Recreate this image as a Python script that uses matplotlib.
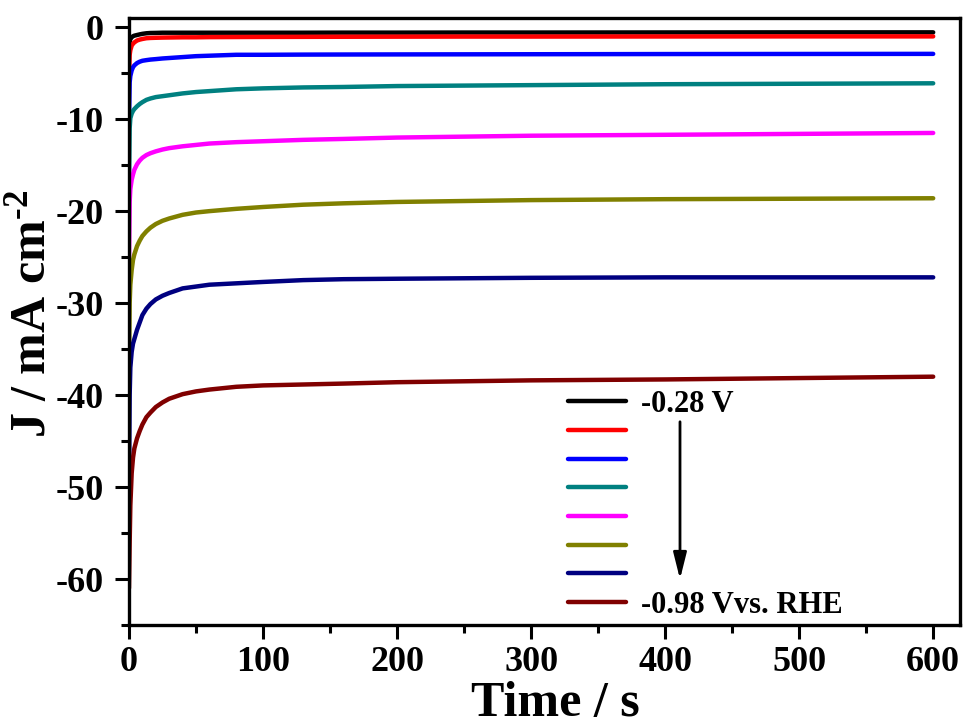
import matplotlib
matplotlib.use("Agg")
import matplotlib.pyplot as plt
from matplotlib.ticker import MultipleLocator

plt.rcParams['font.family'] = ['Liberation Serif', 'DejaVu Serif']
plt.rcParams['font.weight'] = 'bold'
plt.rcParams['axes.unicode_minus'] = False
plt.rcParams['mathtext.fontset'] = 'custom'
plt.rcParams['mathtext.rm'] = 'Liberation Serif:bold'
plt.rcParams['mathtext.bf'] = 'Liberation Serif:bold'
plt.rcParams['mathtext.default'] = 'bf'

time_s = [0, 0.5, 1, 2, 3, 4, 6, 8, 10, 13, 16, 20, 25, 30, 40, 50, 60, 80,
          100, 130, 160, 200, 250, 300, 400, 500, 600]

j_028 = [-3.0, -1.6, -1.3, -1.1, -0.98, -0.92, -0.85, -0.78, -0.72, -0.66, -0.63, -0.62, -0.6, -0.6,
         -0.6, -0.6, -0.6, -0.6, -0.6, -0.6, -0.59, -0.59, -0.58, -0.58, -0.57, -0.56, -0.56]
j_038 = [-5.5, -3.0, -2.5, -2.0, -1.8, -1.65, -1.45, -1.35, -1.28, -1.2, -1.17, -1.15, -1.13, -1.12,
         -1.1, -1.1, -1.08, -1.07, -1.06, -1.05, -1.04, -1.03, -1.02, -1.02, -1.01, -1.0, -1.0]
j_048 = [-10, -6.0, -5.3, -4.7, -4.35, -4.15, -3.9, -3.75, -3.65, -3.58, -3.52, -3.47, -3.4, -3.35,
         -3.25, -3.15, -3.1, -3.0, -3.0, -2.98, -2.97, -2.96, -2.95, -2.94, -2.92, -2.91, -2.9]
j_058 = [-17, -11, -9.9, -9.4, -9.1, -8.9, -8.6, -8.35, -8.15, -7.9, -7.75, -7.6, -7.5, -7.4,
         -7.2, -7.05, -6.95, -6.75, -6.65, -6.55, -6.5, -6.4, -6.35, -6.3, -6.2, -6.15, -6.1]
j_068 = [-25, -19, -17.6, -16.6, -16.0, -15.5, -14.9, -14.5, -14.2, -13.9, -13.7, -13.5, -13.3, -13.15,
         -12.95, -12.8, -12.65, -12.5, -12.4, -12.25, -12.15, -12.0, -11.9, -11.8, -11.7, -11.6, -11.5]
j_078 = [-37, -30, -28, -26.4, -25.3, -24.7, -23.8, -23.2, -22.7, -22.2, -21.8, -21.4, -21.05, -20.8,
         -20.4, -20.15, -20.0, -19.75, -19.55, -19.3, -19.15, -19.0, -18.9, -18.8, -18.7, -18.65, -18.6]
j_088 = [-50, -40, -37, -35.3, -34.4, -33.9, -32.9, -32.1, -31.3, -30.6, -30.1, -29.6, -29.2, -28.9,
         -28.4, -28.2, -28.0, -27.85, -27.7, -27.5, -27.4, -27.35, -27.3, -27.25, -27.2, -27.2, -27.2]
j_098 = [-61, -56, -52, -48.5, -46.8, -45.8, -44.7, -43.9, -43.2, -42.4, -41.9, -41.3, -40.8, -40.4,
         -39.9, -39.6, -39.4, -39.1, -38.95, -38.85, -38.75, -38.6, -38.5, -38.4, -38.3, -38.15, -38.0]

series = [j_028, j_038, j_048, j_058, j_068, j_078, j_088, j_098]
colors = ['#000000', '#FF0000', '#0000FF', '#008080', '#FF00FF', '#808000', '#000080', '#800000']
labels = ['-0.28 V', '', '', '', '', '', '', '-0.98 Vvs. RHE']

fig = plt.figure(figsize=(9.65, 7.27), dpi=100)
ax = fig.add_axes([129/965, 1 - 625/727, (960-129)/965, (625-18)/727])

handles = []
for y, c, lab in zip(series, colors, labels):
    h, = ax.plot(time_s, y, color=c, lw=3.2, label=lab, solid_capstyle='round')
    handles.append(h)

ax.set_xlim(0, 620)
ax.set_ylim(-65, 1)
ax.xaxis.set_major_locator(MultipleLocator(100))
ax.xaxis.set_minor_locator(MultipleLocator(50))
ax.yaxis.set_major_locator(MultipleLocator(10))
ax.yaxis.set_minor_locator(MultipleLocator(5))
ax.tick_params(which='major', direction='out', length=10, width=2.2, labelsize=26)
ax.tick_params(axis='x', which='major', pad=5)
ax.tick_params(axis='y', which='major', pad=8)
ax.tick_params(which='minor', direction='out', length=6, width=2.2)
for lab in ax.get_xticklabels() + ax.get_yticklabels():
    lab.set_fontweight('bold')
for s in ax.spines.values():
    s.set_linewidth(2.4)

ax.set_xlabel('Time / s', fontsize=36, fontweight='bold')
ax.xaxis.set_label_coords((555 - 129) / 831, -(681 - 625) / 607)
ax.set_ylabel('J / mA cm$^{\\text{-2}}$', fontsize=36, fontweight='bold')
ax.yaxis.set_label_coords(-(129 - 56) / 831, (625 - 314) / 607)

leg = ax.legend(handles=handles, labels=labels, loc='upper left',
                bbox_to_anchor=(568/965, 1 - 390/727), bbox_transform=fig.transFigure,
                frameon=False, handlelength=1.9, handletextpad=0.5,
                labelspacing=-0.01, borderpad=0, borderaxespad=0,
                prop={'weight': 'bold', 'size': 22})

ax.annotate('', xy=(680/965, 1 - 582/727), xycoords='figure fraction',
            xytext=(680/965, 1 - 419/727), textcoords='figure fraction',
            arrowprops=dict(arrowstyle='-|>,head_length=1.6,head_width=0.4', color='black', lw=2))

fig.savefig('out.png', dpi=100)
